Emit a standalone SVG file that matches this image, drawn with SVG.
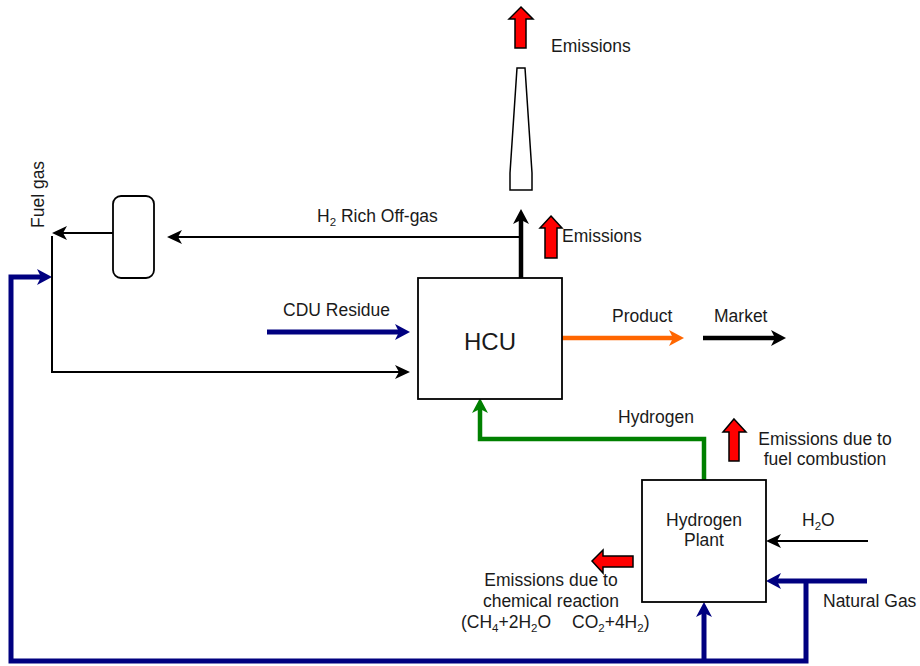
<svg xmlns="http://www.w3.org/2000/svg" width="920" height="666" viewBox="0 0 920 666">
<style>
text{font-family:"Liberation Sans",Arial,sans-serif;font-size:17.5px;fill:#1a1a1a}
.sub{font-size:11.5px}
.box{fill:#fff;stroke:#000;stroke-width:1.8}
.red{fill:#ff0000;stroke:#000;stroke-width:1.5;stroke-linejoin:miter}
.ln{fill:none;stroke-linejoin:miter}
.k2{stroke:#000;stroke-width:2}
.k4{stroke:#000;stroke-width:4.5}
.bl{stroke:#000080;stroke-width:5}
.gr{stroke:#008000;stroke-width:4.5}
.or{stroke:#ff6600;stroke-width:4.5}
</style>
<defs>
<marker id="ak" markerUnits="userSpaceOnUse" viewBox="0 -8 16 16" markerWidth="16" markerHeight="16" refX="4" refY="0" orient="auto"><path d="M0,-7 L15,0 L0,7 L4,0 Z" fill="#000"/></marker>
<marker id="akt" markerUnits="userSpaceOnUse" viewBox="0 -9 16 18" markerWidth="16" markerHeight="18" refX="4" refY="0" orient="auto"><path d="M0,-8 L15,0 L0,8 L4,0 Z" fill="#000"/></marker>
<marker id="ab" markerUnits="userSpaceOnUse" viewBox="0 -9 16 18" markerWidth="16" markerHeight="18" refX="4" refY="0" orient="auto"><path d="M0,-8 L15,0 L0,8 L4,0 Z" fill="#000080"/></marker>
<marker id="ag" markerUnits="userSpaceOnUse" viewBox="0 -9 16 18" markerWidth="16" markerHeight="18" refX="4" refY="0" orient="auto"><path d="M0,-8 L15,0 L0,8 L4,0 Z" fill="#008000"/></marker>
<marker id="ao" markerUnits="userSpaceOnUse" viewBox="0 -9 16 18" markerWidth="16" markerHeight="18" refX="4" refY="0" orient="auto"><path d="M0,-8 L15,0 L0,8 L4,0 Z" fill="#ff6600"/></marker>
</defs>

<g id="connectors">
<path class="ln bl" d="M806,581 V661 H11 V277 H41" marker-end="url(#ab)"/>
<path class="ln bl" d="M867,581 H777" marker-end="url(#ab)"/>
<path class="ln bl" d="M704,661 V613" marker-end="url(#ab)"/>
<path class="ln bl" d="M267,332 H399" marker-end="url(#ab)"/>
<path class="ln k2" d="M52,236 V372 H399" marker-end="url(#ak)"/>
<path class="ln k2" d="M113,233 H63" marker-end="url(#ak)"/>
<path class="ln k2" d="M521,237 H178" marker-end="url(#ak)"/>
<path class="ln k4" d="M521,278 V220" marker-end="url(#akt)"/>
<path class="ln or" d="M562,338 H673" marker-end="url(#ao)"/>
<path class="ln k4" d="M703,338 H775" marker-end="url(#akt)"/>
<path class="ln gr" d="M704,480 V439 H480 V409" marker-end="url(#ag)"/>
<path class="ln k2" d="M868,541 H777" marker-end="url(#ak)"/>
</g>

<g id="stack">
<polygon class="box" points="517,68 525,68 532,173 532,190 510,190 510,173" style="stroke-width:1.5"/>
</g>
<g id="emission-top">
<polygon class="red" points="521,7 533,19 526,19 526,48 515,48 515,19 509,19"/>
<text x="551" y="52">Emissions</text>
</g>
<g id="emission-hcu">
<polygon class="red" points="551,216 562,228 557,228 557,258 545,258 545,228 540,228"/>
<text x="562" y="242">Emissions</text>
</g>
<g id="emission-fuel">
<polygon class="red" points="734,419 746,432 739,432 739,461 729,461 729,432 723,432"/>
<text text-anchor="middle" x="825" y="445">Emissions due to</text>
<text text-anchor="middle" x="825" y="465">fuel combustion</text>
</g>
<g id="emission-chem">
<polygon class="red" points="592,561 603,550 603,556 633,556 633,567 603,567 603,573"/>
<text text-anchor="middle" x="551" y="586">Emissions due to</text>
<text text-anchor="middle" x="551" y="607">chemical reaction</text>
<text x="461" y="628">(CH<tspan class="sub" dy="4">4</tspan><tspan dy="-4">+2H</tspan><tspan class="sub" dy="4">2</tspan><tspan dy="-4">O</tspan><tspan x="572">CO</tspan><tspan class="sub" dy="4">2</tspan><tspan dy="-4">+4H</tspan><tspan class="sub" dy="4">2</tspan><tspan dy="-4">)</tspan></text>
</g>

<g id="fuel-drum">
<rect class="box" x="113" y="196" width="41" height="82" rx="8" ry="8"/>
</g>
<g id="fuel-gas-label">
<text transform="translate(44,228) rotate(-90)">Fuel gas</text>
</g>
<g id="offgas-label">
<text x="317" y="222">H<tspan class="sub" dy="4">2</tspan><tspan dy="-4"> Rich Off-gas</tspan></text>
</g>
<g id="cdu-label"><text x="283" y="316">CDU Residue</text></g>

<g id="hcu">
<rect class="box" x="418" y="278" width="144" height="121"/>
<text x="490" y="350" text-anchor="middle" style="font-size:24px">HCU</text>
</g>
<g id="product-label"><text x="612" y="322">Product</text></g>
<g id="market-label"><text x="714" y="322">Market</text></g>
<g id="hydrogen-label"><text x="618" y="423">Hydrogen</text></g>

<g id="hydrogen-plant">
<rect class="box" x="642" y="480" width="124" height="122"/>
<text x="704" y="526" text-anchor="middle">Hydrogen</text>
<text x="704" y="546" text-anchor="middle">Plant</text>
</g>
<g id="h2o-label"><text x="802" y="526">H<tspan class="sub" dy="4">2</tspan><tspan dy="-4">O</tspan></text></g>
<g id="natgas-label"><text x="823" y="607">Natural Gas</text></g>
</svg>
